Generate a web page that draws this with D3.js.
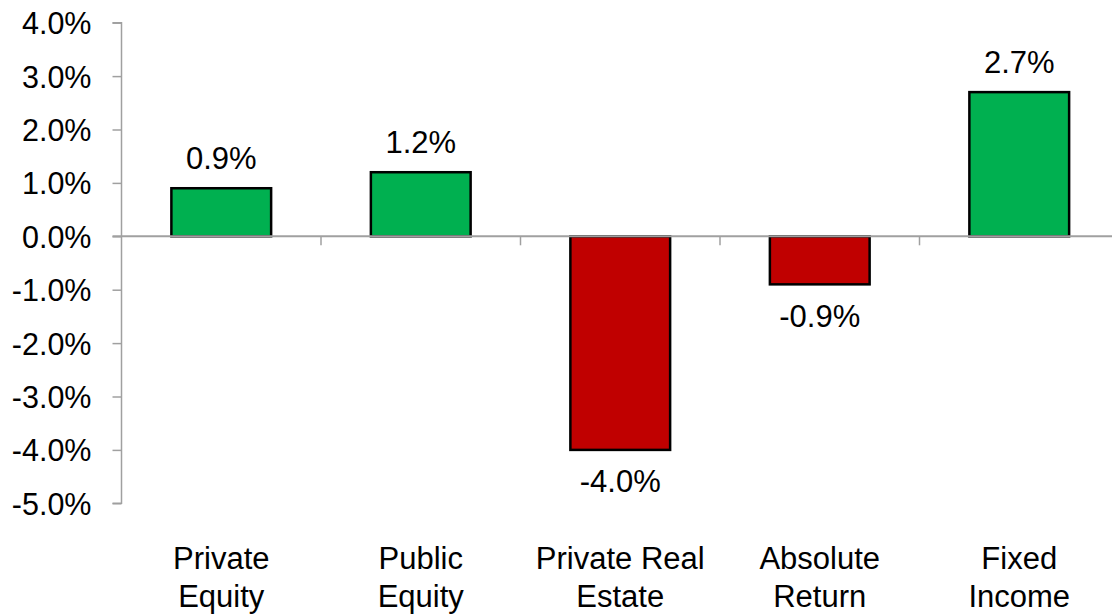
<!DOCTYPE html>
<html>
<head>
<meta charset="utf-8">
<script src="https://cdn.jsdelivr.net/npm/d3@7"></script>
<style>
  html, body { margin: 0; padding: 0; background: #fff; }
  svg { display: block; }
  text { font-family: "Liberation Sans", Arial, sans-serif; fill: #000; }
</style>
</head>
<body>
<svg id="chart" width="1112" height="615"></svg>
<script>
// Asset class returns (percent)
const categories = [["Private", "Equity"], ["Public", "Equity"], ["Private Real", "Estate"], ["Absolute", "Return"], ["Fixed", "Income"]];
const returns = [0.9, 1.2, -4.0, -0.9, 2.7];
const yTicks = [4, 3, 2, 1, 0, -1, -2, -3, -4, -5];

const positiveColor = "#00B050";
const negativeColor = "#C00000";
const axisColor = "#A0A0A0";
const tickFontSize = 30.5;
const labelFontSize = 31;

// Percent format with a plain hyphen for negatives
const pct = d3.formatLocale({ decimal: ".", thousands: ",", grouping: [3], currency: ["", ""], minus: "-" }).format(".1f");
const fmt = d => pct(d) + "%";

const svg = d3.select("#chart");
const plotLeft = 121.5, plotRight = 1119, plotTop = 22.7, plotBottom = 503.3;

const y = d3.scaleLinear().domain([-5, 4]).range([plotBottom, plotTop]);
const x = d3.scaleBand().domain(categories.map((c, i) => i)).range([plotLeft, plotRight]).paddingInner(0.5).paddingOuter(0.25);

// Y axis
const yAxis = svg.append("g").attr("transform", `translate(${plotLeft},0)`)
  .call(d3.axisLeft(y).tickValues(yTicks).tickSize(9).tickPadding(21).tickFormat(fmt));
yAxis.select(".domain").attr("stroke", axisColor).attr("stroke-width", 1.5).attr("d", `M-9,${y(4)}H0V${y(-5)}H-9`);
yAxis.selectAll(".tick line").attr("stroke", axisColor).attr("stroke-width", 1.5);
yAxis.selectAll(".tick text").attr("font-size", tickFontSize).attr("font-family", "Liberation Sans, Arial, sans-serif").attr("fill", "#000").attr("dy", "0.36em");

// Bars
const bars = returns.map((v, i) => ({ v, i }));
svg.append("g").selectAll("rect").data(bars).join("rect")
  .attr("x", d => x(d.i))
  .attr("width", x.bandwidth())
  .attr("y", d => y(Math.max(0, d.v)))
  .attr("height", d => Math.abs(y(d.v) - y(0)))
  .attr("fill", d => d.v >= 0 ? positiveColor : negativeColor)
  .attr("stroke", "#000")
  .attr("stroke-width", 2.5);

// Zero line with category separators
const step = x.step();
const zero = svg.append("g").attr("transform", `translate(0,${y(0)})`);
zero.append("line").attr("x1", plotLeft - 9).attr("x2", 1112).attr("stroke", axisColor).attr("stroke-width", 2);
zero.selectAll("line.sep").data(d3.range(1, categories.length)).join("line")
  .attr("class", "sep")
  .attr("x1", i => plotLeft + i * step).attr("x2", i => plotLeft + i * step)
  .attr("y1", 0).attr("y2", 9)
  .attr("stroke", axisColor).attr("stroke-width", 1.5);

// Value labels
svg.append("g").selectAll("text").data(bars).join("text")
  .attr("x", d => x(d.i) + x.bandwidth() / 2)
  .attr("y", d => d.v >= 0 ? y(d.v) - 19 : y(d.v) + 20)
  .attr("dy", d => d.v >= 0 ? 0 : "0.72em")
  .attr("text-anchor", "middle")
  .attr("font-size", labelFontSize)
  .text(d => fmt(d.v));

// Category labels
const cat = svg.append("g").selectAll("text").data(categories.map((c, i) => ({ c, i }))).join("text")
  .attr("x", d => x(d.i) + x.bandwidth() / 2)
  .attr("y", 569)
  .attr("text-anchor", "middle")
  .attr("font-size", labelFontSize);
cat.selectAll("tspan").data(d => d.c.map(t => ({ t, cx: x(d.i) + x.bandwidth() / 2 }))).join("tspan")
  .attr("x", d => d.cx)
  .attr("dy", (d, j) => j === 0 ? 0 : 37.5)
  .text(d => d.t);
</script>
</body>
</html>
